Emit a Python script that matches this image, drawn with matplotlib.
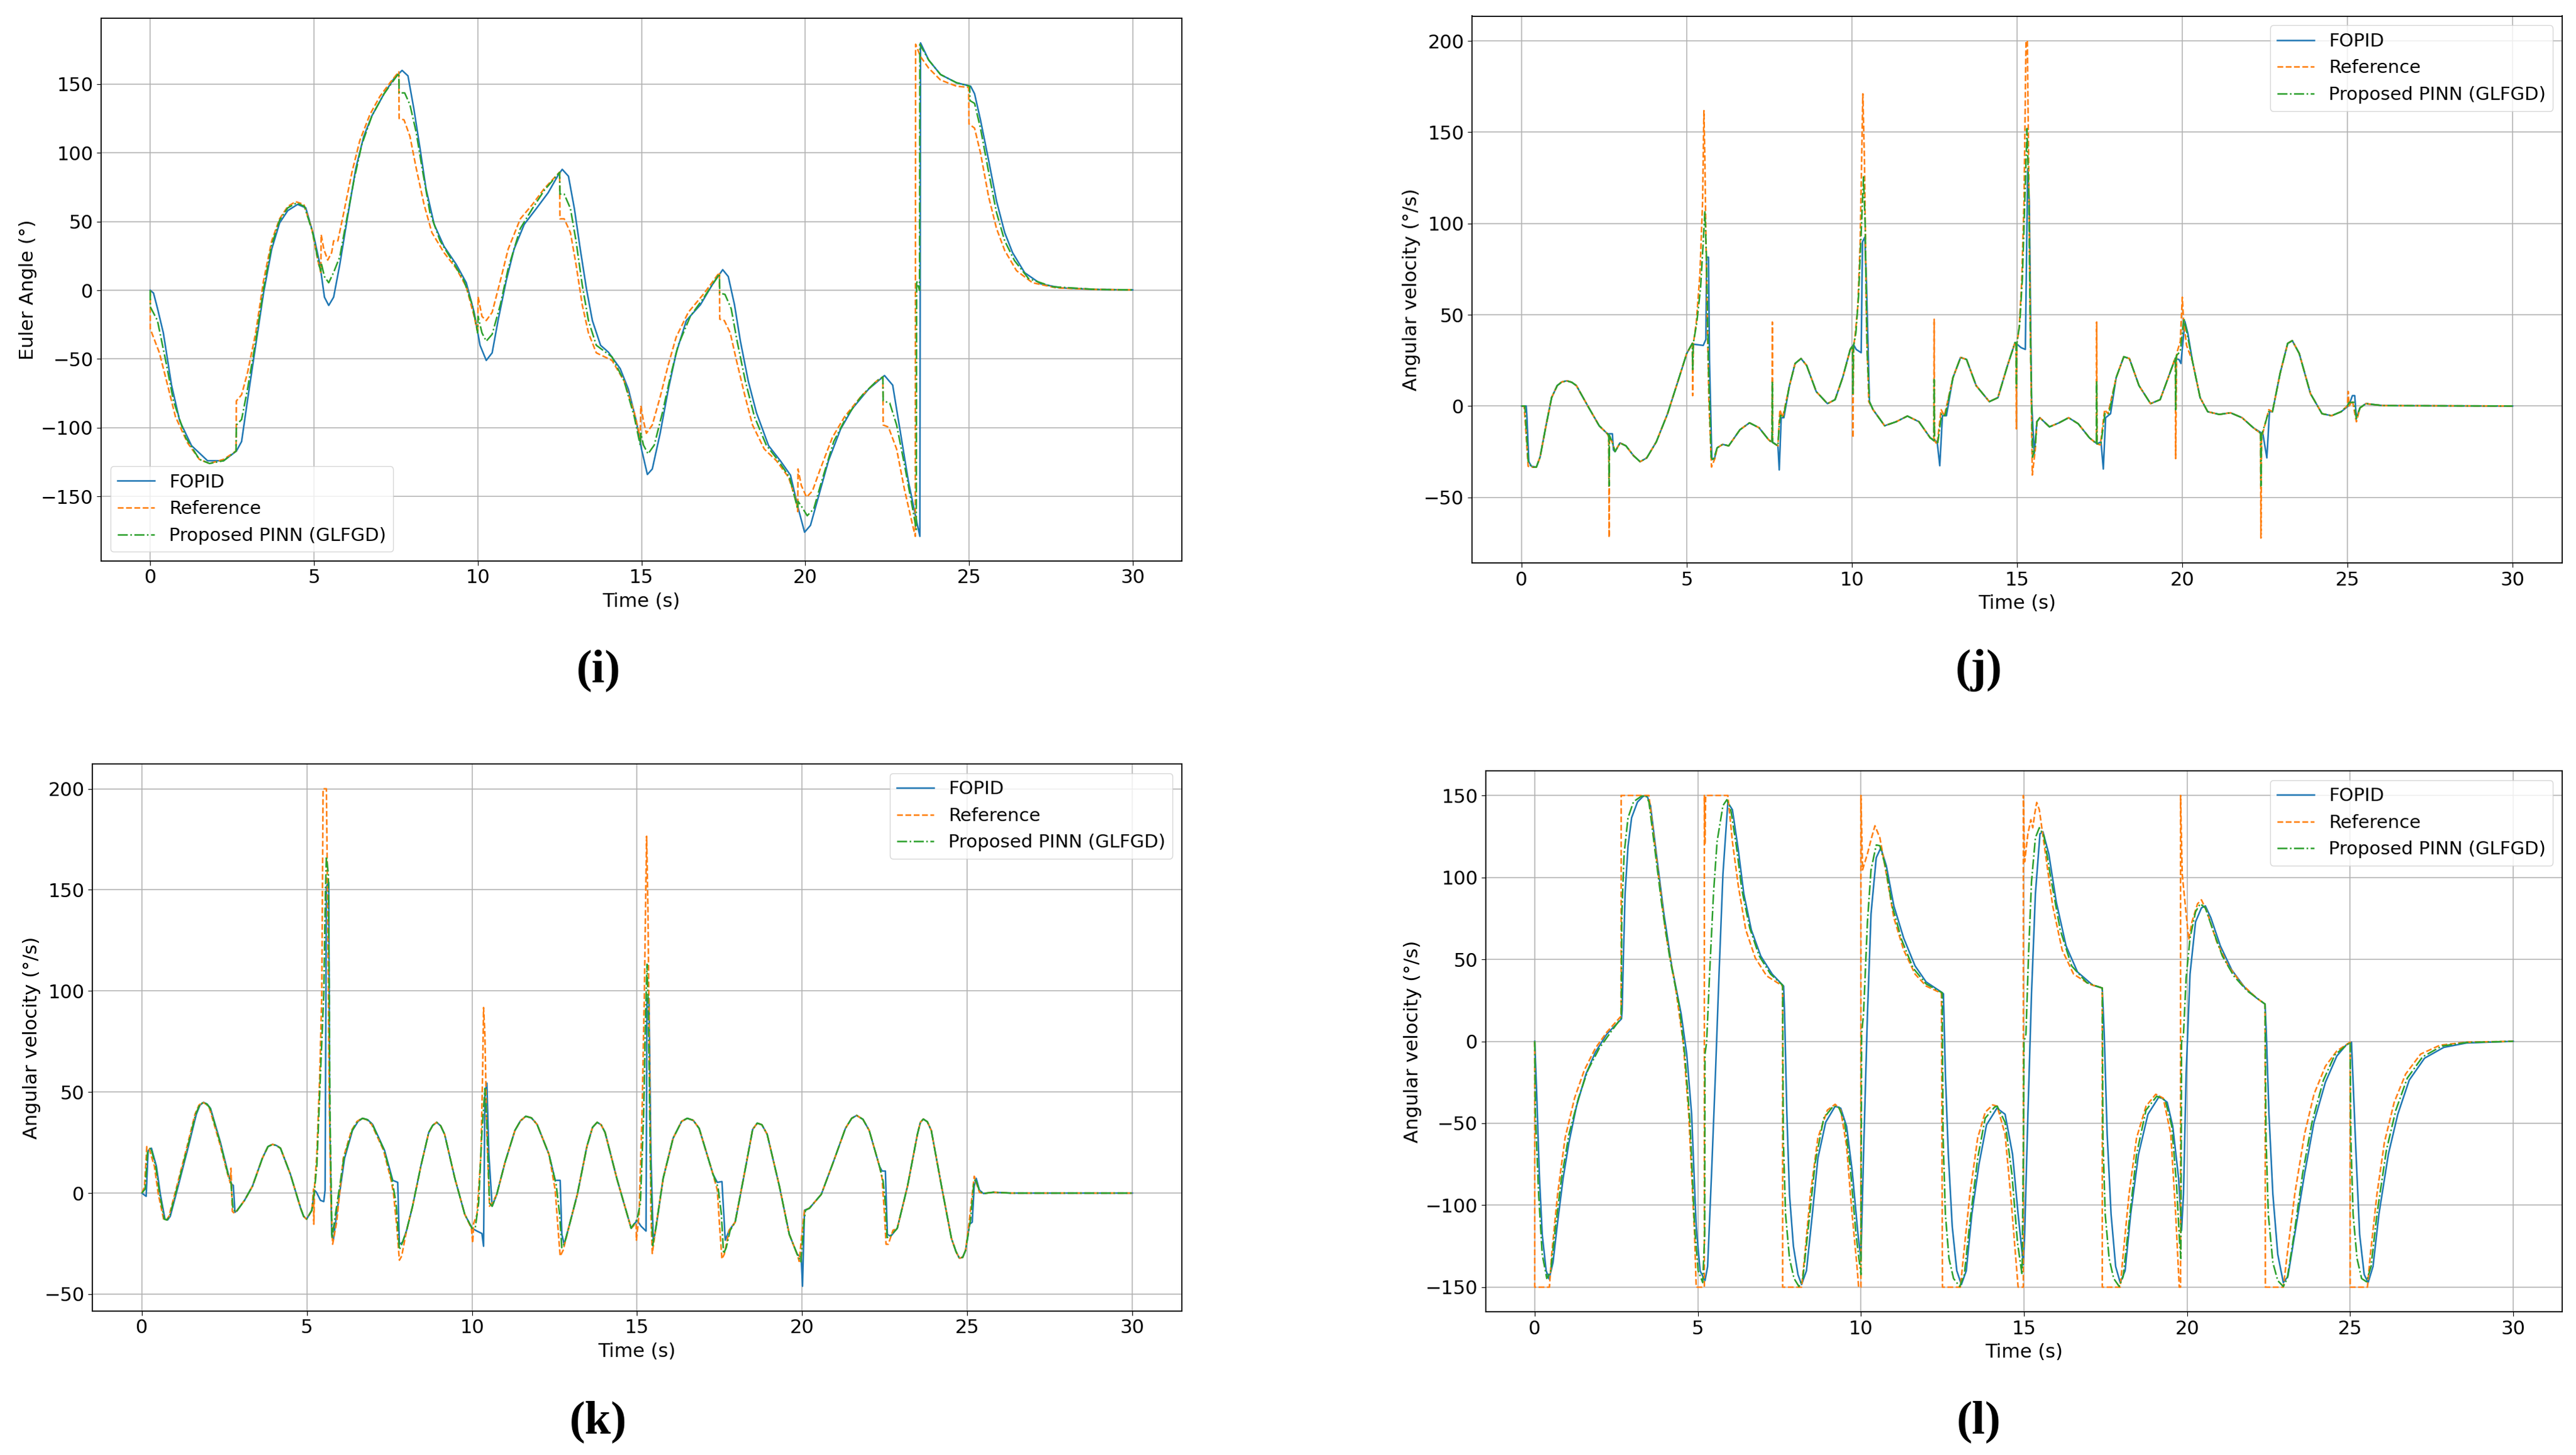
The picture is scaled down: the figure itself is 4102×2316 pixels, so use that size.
import numpy as np
import matplotlib
matplotlib.use("Agg")
import matplotlib.pyplot as plt

# 4 panels: (i) euler angle, (j)(k)(l) angular velocity
# each series is [t, value] pairs

# ---- panel (i) ----
fopid_i = np.array([
    [0, 0], [0.1, -2], [0.22, -13], [0.4, -31], [0.65, -69], [0.9, -95], [1.26, -113], [1.75, -124],
    [2.24, -124], [2.63, -117], [2.79, -110], [2.97, -80], [3.22, -40], [3.46, -2], [3.71, 30],
    [3.95, 49], [4.2, 58], [4.5, 62.5], [4.75, 60], [4.99, 40], [5.18, 19], [5.32, -5], [5.45, -11],
    [5.6, -5], [5.79, 19], [6.03, 54], [6.28, 89], [6.52, 112], [6.77, 127], [7.14, 143], [7.44, 154],
    [7.69, 160], [7.87, 156], [8.05, 132], [8.24, 103], [8.42, 74], [8.67, 48], [8.97, 32], [9.34, 19],
    [9.65, 5.5], [9.89, -16], [10.07, -40], [10.26, -51], [10.44, -45.5], [10.62, -22], [10.87, 7],
    [11.11, 30], [11.42, 48], [11.79, 59.5], [12.15, 71], [12.46, 84], [12.58, 88], [12.77, 83],
    [12.95, 59.5], [13.13, 30], [13.32, 1], [13.5, -22], [13.75, -40], [13.99, -45], [14.35, -57],
    [14.6, -72], [14.84, -95], [15.0, -115.5], [15.18, -134], [15.33, -130], [15.57, -104], [15.82, -72],
    [16.06, -45.5], [16.37, -22], [16.8, -10.5], [17.16, 4], [17.48, 15], [17.65, 10], [17.84, -10.5],
    [18.02, -37], [18.26, -66], [18.51, -89], [18.88, -113], [19.24, -124], [19.55, -134.5],
    [19.79, -159], [19.98, -176], [20.16, -171], [20.4, -150.5], [20.71, -124], [21.08, -101],
    [21.44, -86], [21.93, -72], [22.42, -62], [22.67, -69], [22.91, -104], [23.15, -139], [23.4, -168],
    [23.5, -179], [23.52, 180], [23.77, 167.5], [24.13, 157], [24.62, 151], [25.05, 148.5],
    [25.17, 143], [25.35, 124], [25.6, 94.5], [25.84, 65], [26.09, 42], [26.33, 27.4], [26.7, 12.8],
    [27.19, 4.7], [27.8, 1.75], [28.9, 0.6], [30, 0.3]])
ref_i = np.array([
    [0, 0], [0, -28], [0.28, -45.5], [0.53, -69], [0.77, -92], [1.14, -111], [1.5, -123], [1.81, -126],
    [2.24, -123], [2.62, -117], [2.63, -80.5], [2.79, -76], [2.97, -60], [3.22, -31], [3.46, 7],
    [3.71, 36], [3.95, 52], [4.2, 61], [4.44, 64.5], [4.69, 62.5], [4.93, 45], [5.12, 21.6], [5.21, 13],
    [5.22, 40.5], [5.3, 30], [5.42, 22], [5.54, 27.4], [5.6, 36], [5.73, 36], [5.91, 56.6], [6.16, 86],
    [6.4, 109], [6.71, 128], [7.01, 141], [7.32, 151], [7.59, 159], [7.6, 125], [7.75, 124], [7.93, 112],
    [8.12, 89], [8.36, 62.5], [8.6, 42], [8.97, 27.4], [9.34, 16], [9.65, 2.6], [9.89, -19], [10.0, -31],
    [10.01, -4.7], [10.13, -19], [10.26, -22], [10.44, -16], [10.69, 7], [10.93, 30], [11.3, 52],
    [11.67, 62.5], [12.03, 74], [12.5, 86], [12.51, 52], [12.64, 52], [12.83, 42], [13.0, 19],
    [13.19, -10.5], [13.38, -31], [13.62, -45.5], [14.1, -51], [14.47, -66], [14.78, -89],
    [14.96, -107], [14.98, -84], [15.06, -95], [15.15, -104], [15.33, -98], [15.57, -77.6],
    [15.82, -54], [16.06, -34], [16.43, -16], [16.92, -2], [17.38, 13], [17.39, -21], [17.53, -22],
    [17.71, -31], [17.9, -51], [18.14, -75], [18.39, -98], [18.75, -115.5], [19.12, -124],
    [19.49, -136], [19.73, -153.5], [19.77, -161], [19.78, -130], [19.88, -142], [20.04, -150.5],
    [20.22, -146], [20.46, -130], [20.83, -107], [21.2, -92], [21.69, -77.6], [22.18, -66],
    [22.37, -63], [22.38, -98], [22.54, -99.5], [22.79, -115.5], [23.03, -145], [23.28, -171],
    [23.36, -179], [23.37, 179], [23.52, 170], [23.77, 161.6], [24.13, 153], [24.62, 148.5],
    [24.99, 147.6], [25.0, 121], [25.17, 118], [25.35, 100], [25.6, 68], [25.84, 45], [26.09, 29],
    [26.45, 14.3], [26.94, 5.5], [27.68, 1.75], [28.9, 0.6], [30, 0.3]])
pinn_i = np.array([
    [0, 0], [0, -12], [0.22, -22], [0.47, -51], [0.71, -80.5], [1.08, -107], [1.5, -123], [1.81, -126],
    [2.24, -124], [2.62, -117], [2.63, -98], [2.79, -94], [2.97, -72], [3.22, -37], [3.46, 1],
    [3.71, 33], [3.95, 51], [4.2, 60], [4.47, 63.6], [4.71, 61], [4.96, 42], [5.15, 18.7], [5.21, 14],
    [5.22, 20], [5.32, 10], [5.45, 5.5], [5.6, 13], [5.79, 24.5], [5.97, 48], [6.22, 80], [6.46, 106],
    [6.77, 127], [7.14, 143], [7.44, 153], [7.59, 158], [7.6, 143.6], [7.77, 143.6], [7.93, 135],
    [8.12, 115], [8.3, 89], [8.54, 56.6], [8.85, 36], [9.22, 21.6], [9.58, 7], [9.83, -10.5],
    [10.0, -31], [10.01, -19], [10.13, -31], [10.26, -37], [10.44, -32], [10.69, -10.5], [10.93, 16],
    [11.3, 45], [11.67, 59.5], [12.03, 72.7], [12.5, 85.8], [12.51, 70], [12.64, 70], [12.83, 59.5],
    [13.0, 36], [13.19, 4], [13.38, -22], [13.62, -40], [14.1, -48.5], [14.47, -66], [14.78, -92],
    [14.96, -112.6], [14.98, -104], [15.06, -112.6], [15.2, -119], [15.39, -112.6], [15.64, -89],
    [15.88, -63], [16.12, -40], [16.49, -19], [16.92, -4.7], [17.38, 12], [17.39, -2], [17.55, -3],
    [17.74, -13.4], [17.92, -37], [18.17, -66], [18.45, -92], [18.81, -112.6], [19.18, -124],
    [19.52, -136], [19.77, -159], [19.78, -153.5], [19.88, -157], [20.06, -164], [20.26, -159],
    [20.5, -139], [20.87, -110], [21.26, -92], [21.75, -76], [22.18, -66], [22.37, -63],
    [22.38, -80.5], [22.58, -82], [22.79, -98], [23.03, -127], [23.28, -159], [23.39, -174],
    [23.4, 7], [23.49, 0], [23.5, 179], [23.77, 167.5], [24.13, 157], [24.62, 151], [25.02, 148.5],
    [25.03, 138], [25.17, 136], [25.35, 118], [25.6, 86], [25.84, 56.6], [26.09, 36], [26.39, 21.6],
    [26.82, 8.5], [27.55, 2.6], [28.9, 0.6], [30, 0.3]])

# ---- panel (j) ----
fopid_j = np.array([
    [0, 0], [0.14, 0], [0.16, -5], [0.22, -30.5], [0.3, -33], [0.45, -33.4], [0.56, -28], [0.74, -10.8],
    [0.91, 4.6], [1.08, 11.2], [1.22, 13.2], [1.37, 13.8], [1.52, 13], [1.66, 11.2], [2.0, 0.2],
    [2.35, -10.8], [2.6, -15.2],
    [2.75, -15.2], [2.78, -24], [2.83, -25], [2.98, -20.2], [3.16, -21.8], [3.39, -27.2], [3.59, -30.5],
    [3.79, -28.4], [4.08, -19.6], [4.42, -4.2], [4.77, 15.6], [5.0, 28.8], [5.17, 34.3], [5.23, 33.8],
    [5.5, 33.2], [5.58, 36.5], [5.6, 81.5], [5.66, 81.5], [5.69, 24.4], [5.76, -28.4], [5.83, -29.5],
    [5.92, -22.9], [6.09, -21], [6.27, -21.8], [6.61, -13], [6.9, -9.2], [7.19, -11.9], [7.48, -18.5],
    [7.65, -20.4], [7.76, -21.8], [7.8, -35], [7.86, -6.4], [7.94, -6.4], [8.11, 11.2], [8.28, 23.3],
    [8.46, 26], [8.63, 22.2], [8.92, 7.9], [9.26, 1.3], [9.49, 3.5], [9.72, 15.6], [9.95, 31],
    [10.05, 33.6], [10.13, 31], [10.28, 29.2], [10.32, 90], [10.39, 92.5], [10.44, 68], [10.53, 2.4],
    [10.64, -2], [10.99, -10.8], [11.34, -8.6], [11.68, -5.5], [12.03, -8.6], [12.37, -17.4],
    [12.58, -19.6], [12.66, -32.7], [12.74, -5.3], [12.86, -5.3], [13.06, 15.6], [13.29, 26.6],
    [13.47, 25.5], [13.76, 11.2], [14.16, 2.4], [14.42, 4.6], [14.71, 22.2], [14.94, 34.8],
    [15.12, 32], [15.25, 31], [15.32, 129.6], [15.37, 112], [15.44, 2.4], [15.52, -26], [15.6, -8.6],
    [15.69, -6.4], [15.98, -11.4], [16.27, -9.2], [16.56, -6.4], [16.85, -9.7], [17.19, -17.4],
    [17.42, -20.7], [17.54, -19.6], [17.61, -34.5], [17.68, -6.4], [17.83, -4.2], [18.0, 15.6],
    [18.23, 27], [18.4, 26], [18.69, 11.2], [19.04, 1.3], [19.33, 3.5], [19.62, 17.8], [19.79, 26],
    [19.9, 25.5], [19.96, 23.3], [20.02, 35.3], [20.08, 46.3], [20.17, 39.7], [20.31, 24.4],
    [20.54, 4.6], [20.77, -3.1], [21.12, -4.6], [21.46, -3.7], [21.81, -6.4], [22.15, -11.9],
    [22.44, -15.2], [22.56, -28.4], [22.64, -3.1], [22.73, -3.1], [22.96, 17.8], [23.19, 34.3],
    [23.33, 35.8], [23.54, 28.8], [23.88, 6.8], [24.23, -4.2], [24.52, -5.3], [24.81, -3.1],
    [25.04, 0.2], [25.15, 5.7], [25.22, 5.7], [25.27, -6.4], [25.38, -0.9], [25.56, 1.3],
    [26.08, 0.2], [30, 0]])
ref_j = np.array([
    [0, 0], [0.08, 0], [0.2, -33], [0.3, -33.5], [0.45, -33.4], [0.56, -28], [0.74, -10.8], [0.91, 4.6],
    [1.08, 11.2], [1.22, 13.2], [1.37, 13.8], [1.52, 13], [1.66, 11.2], [2.0, 0.2], [2.35, -10.8],
    [2.6, -15.2], [2.64, -17],
    [2.65, -72], [2.66, -17], [2.75, -20], [2.83, -25], [2.98, -20.2], [3.16, -21.8], [3.39, -27.2],
    [3.59, -30.5], [3.79, -28.4], [4.08, -19.6], [4.42, -4.2], [4.77, 15.6], [5.0, 28.8], [5.17, 34.3],
    [5.18, 5.7], [5.2, 34], [5.29, 46], [5.4, 72.7], [5.48, 112], [5.52, 161.8], [5.55, 134], [5.6, 68],
    [5.67, 2.4], [5.75, -33.4], [5.86, -28.4], [5.92, -22.9], [6.09, -21], [6.27, -21.8], [6.61, -13],
    [6.9, -9.2], [7.19, -11.9], [7.48, -18.5], [7.58, -20], [7.59, 46], [7.6, -20], [7.76, -21.8],
    [7.8, -8], [7.82, -2], [7.9, -6.4], [8.11, 11.2], [8.28, 23.3], [8.46, 26], [8.63, 22.2],
    [8.92, 7.9], [9.26, 1.3], [9.49, 3.5], [9.72, 15.6], [9.95, 31], [10.02, 33], [10.03, -17.4],
    [10.05, 33], [10.09, 37.6], [10.18, 55], [10.25, 90], [10.33, 171], [10.38, 134], [10.44, 46],
    [10.51, 2.4], [10.64, -2], [10.99, -10.8], [11.34, -8.6], [11.68, -5.5], [12.03, -8.6],
    [12.37, -17.4], [12.48, -19], [12.49, 47.5], [12.5, -19], [12.58, -21], [12.7, -2], [12.8, -5.3],
    [13.06, 15.6], [13.29, 26.6], [13.47, 25.5], [13.76, 11.2], [14.16, 2.4], [14.42, 4.6],
    [14.71, 22.2], [14.94, 34.8], [14.97, 34], [14.98, -12.5], [14.99, 34], [15.06, 42], [15.14, 68],
    [15.21, 112], [15.27, 200], [15.31, 200], [15.35, 134], [15.4, 46], [15.46, -37.8], [15.55, -24],
    [15.6, -8.6], [15.69, -6.4], [15.98, -11.4], [16.27, -9.2], [16.56, -6.4], [16.85, -9.7],
    [17.19, -17.4], [17.4, -20.5], [17.41, 46], [17.42, -20.7], [17.52, -21.3], [17.65, -2],
    [17.75, -4.2], [18.0, 15.6], [18.23, 27], [18.4, 26], [18.69, 11.2], [19.04, 1.3], [19.33, 3.5],
    [19.62, 17.8], [19.79, 26.6], [19.8, -28.8], [19.83, 28.8], [19.94, 35.4], [20.0, 59.6],
    [20.04, 46.4], [20.13, 33.2], [20.31, 24.4], [20.54, 4.6], [20.77, -3.1], [21.12, -4.6],
    [21.46, -3.7], [21.81, -6.4], [22.15, -11.9], [22.37, -15], [22.38, -72.3], [22.4, -17.4],
    [22.62, -2], [22.73, -3.1], [22.96, 17.8], [23.19, 34.3], [23.33, 35.8], [23.54, 28.8],
    [23.88, 6.8], [24.23, -4.2], [24.52, -5.3], [24.81, -3.1], [25.0, 0.2], [25.02, 8], [25.05, 0],
    [25.15, 3], [25.27, -8.6], [25.38, -1], [25.56, 1.3], [26.08, 0.2], [30, 0]])
pinn_j = np.array([
    [0, 0], [0.1, 0], [0.2, -30], [0.3, -33.5], [0.45, -33.4], [0.56, -28], [0.74, -10.8], [0.91, 4.6],
    [1.08, 11.2], [1.22, 13.2], [1.37, 13.8], [1.52, 13], [1.66, 11.2], [2.0, 0.2], [2.35, -10.8],
    [2.6, -15.2], [2.64, -16],
    [2.65, -43.7], [2.66, -16], [2.75, -20], [2.83, -25], [2.98, -20.2], [3.16, -21.8], [3.39, -27.2],
    [3.59, -30.5], [3.79, -28.4], [4.08, -19.6], [4.42, -4.2], [4.77, 15.6], [5.0, 28.8], [5.17, 34.3],
    [5.18, 20], [5.2, 34.5], [5.3, 45], [5.42, 65], [5.5, 90], [5.55, 106.8], [5.6, 80], [5.66, 20],
    [5.74, -28], [5.8, -30], [5.92, -22.9], [6.09, -21], [6.27, -21.8], [6.61, -13], [6.9, -9.2],
    [7.19, -11.9], [7.48, -18.5], [7.58, -20], [7.59, 13.4], [7.6, -20], [7.76, -21.8], [7.8, -10],
    [7.84, -5], [7.92, -6.4], [8.11, 11.2], [8.28, 23.3], [8.46, 26], [8.63, 22.2], [8.92, 7.9],
    [9.26, 1.3], [9.49, 3.5], [9.72, 15.6], [9.95, 31], [10.02, 33], [10.03, 6.8], [10.05, 33],
    [10.12, 40], [10.2, 60], [10.28, 95], [10.35, 125.5], [10.4, 100], [10.46, 30], [10.53, 2.4],
    [10.64, -2], [10.99, -10.8], [11.34, -8.6], [11.68, -5.5], [12.03, -8.6], [12.37, -17.4],
    [12.48, -19], [12.49, 14.5], [12.5, -19], [12.6, -20], [12.72, -4], [12.82, -5.3], [13.06, 15.6],
    [13.29, 26.6], [13.47, 25.5], [13.76, 11.2], [14.16, 2.4], [14.42, 4.6], [14.71, 22.2],
    [14.94, 34.8], [14.97, 34], [14.98, 10], [14.99, 34], [15.08, 45], [15.16, 70], [15.23, 110],
    [15.3, 152], [15.35, 120], [15.4, 40], [15.47, -28], [15.55, -22], [15.6, -8.6], [15.69, -6.4],
    [15.98, -11.4], [16.27, -9.2], [16.56, -6.4], [16.85, -9.7], [17.19, -17.4], [17.4, -20.5],
    [17.41, 13.8], [17.42, -20.7], [17.54, -20.5], [17.66, -4], [17.78, -4.2], [18.0, 15.6],
    [18.23, 27], [18.4, 26], [18.69, 11.2], [19.04, 1.3], [19.33, 3.5], [19.62, 17.8], [19.79, 26.3],
    [19.8, -2], [19.82, 27.5], [19.94, 30], [20.05, 48], [20.12, 42], [20.31, 24.4], [20.54, 4.6],
    [20.77, -3.1], [21.12, -4.6], [21.46, -3.7], [21.81, -6.4], [22.15, -11.9], [22.37, -15],
    [22.38, -43.7], [22.4, -16], [22.62, -3], [22.73, -3.1], [22.96, 17.8], [23.19, 34.3],
    [23.33, 35.8], [23.54, 28.8], [23.88, 6.8], [24.23, -4.2], [24.52, -5.3], [24.81, -3.1],
    [25.0, 0.2], [25.05, 2], [25.2, 2], [25.27, -7], [25.38, -1], [25.56, 1.3], [26.08, 0.2], [30, 0]])

# ---- panel (k) ----
fopid_k = np.array([
    [0, 0], [0.13, -1.6], [0.19, 21], [0.29, 22.2], [0.44, 13.3], [0.56, -0.6], [0.7, -12.9],
    [0.78, -13.3], [0.86, -11.5], [1.1, 3.4], [1.41, 23.1], [1.65, 39], [1.76, 43.5], [1.87, 44.9],
    [1.98, 44], [2.08, 41.9], [2.38, 25.1],
    [2.62, 9.3], [2.72, 4.4], [2.77, 3.8], [2.82, -9.5], [2.89, -8.5], [3.11, -3.6], [3.35, 3.4],
    [3.65, 17.2], [3.82, 23], [3.96, 24.1], [4.08, 23.5], [4.2, 22.2], [4.5, 9.3], [4.81, -7.5],
    [4.9, -11.5], [4.99, -12.9], [5.15, -8.5],
    [5.23, 1.4], [5.29, 0.4], [5.41, -3.6], [5.51, -4.2], [5.55, 1.4], [5.59, 151.7], [5.66, 153.7],
    [5.69, 39], [5.75, -20.4], [5.8, -23.3], [5.9, -10.5], [6.14, 17.2], [6.38, 31], [6.55, 35.5],
    [6.69, 37], [6.84, 36.3],
    [6.99, 34], [7.35, 21.2], [7.6, 6.3], [7.75, 5.3], [7.8, -25.3], [7.9, -24.3], [8.02, -18.4],
    [8.2, -6.5], [8.45, 13.3], [8.69, 30], [8.81, 33.5], [8.93, 35], [9.05, 33.3], [9.17, 29.1],
    [9.48, 7.3], [9.78, -10.5],
    [10.0, -17.4], [10.15, -18.8], [10.3, -20], [10.35, -26.3], [10.39, 48.9], [10.45, 54.4],
    [10.51, 19.2], [10.61, -6.5], [10.75, -0.6], [11.0, 15.2], [11.3, 31], [11.47, 35.8], [11.63, 38],
    [11.8, 37.2], [11.97, 34],
    [12.33, 19.2], [12.52, 6.3], [12.67, 6.3], [12.72, -20.4], [12.79, -25.3], [12.94, -16.4],
    [13.19, -0.6], [13.48, 23.1], [13.65, 32.5], [13.79, 35], [13.91, 33.8], [14.03, 30], [14.39, 7],
    [14.82, -17.4], [15.0, -13.5],
    [15.12, -16.4], [15.27, -18.8], [15.3, 96.3], [15.36, 96.3], [15.42, 19.2], [15.49, -24.3],
    [15.58, -16.4], [15.79, 7.3], [16.09, 27.1], [16.35, 35.5], [16.52, 37], [16.7, 36], [16.88, 32],
    [17.3, 9.3], [17.43, 5.3],
    [17.57, 5.7], [17.62, -8.5], [17.67, -23.3], [17.79, -18.4], [17.97, -14.4], [18.27, 11.3],
    [18.5, 31.5], [18.64, 34.6], [18.78, 33.8], [18.94, 29.1], [19.31, 3.4], [19.61, -20.4],
    [19.85, -30.3], [19.97, -31.8],
    [20.01, -46.1], [20.07, -8.5], [20.22, -7.5], [20.58, -0.6], [20.94, 15.2], [21.31, 32],
    [21.5, 37], [21.65, 38.4], [21.84, 36.5], [22.03, 31], [22.34, 13.3], [22.42, 10.9], [22.52, 10.9],
    [22.58, -20.4],
    [22.68, -21.4], [22.88, -17.4], [23.19, 3.4], [23.49, 29.1], [23.58, 35], [23.67, 36.6],
    [23.79, 35.3], [23.91, 31],
    [24.22, 3.4], [24.52, -22.4], [24.66, -29], [24.76, -32.2], [24.86, -31.8], [24.95, -28.3],
    [25.07, -15.4], [25.15, -14.4],
    [25.21, 3.4], [25.27, 7.3], [25.37, 1.4], [25.49, -0.2], [25.79, 0.4], [26.3, 0], [30, 0]])
ref_k = np.array([
    [0, 0], [0.08, 3], [0.15, 23], [0.22, 22], [0.38, 13.3], [0.5, -0.6], [0.66, -12.9], [0.75, -13.3],
    [0.82, -11.5], [1.06, 3.4], [1.37, 23.1], [1.61, 39], [1.73, 43.5], [1.84, 44.9], [1.95, 44],
    [2.05, 41.9], [2.35, 25.1], [2.6, 9.3],
    [2.68, 5], [2.7, 12.3], [2.74, -9], [2.8, -10], [2.89, -8.5], [3.11, -3.6], [3.35, 3.4],
    [3.65, 17.2], [3.82, 23], [3.96, 24.1], [4.08, 23.5], [4.2, 22.2], [4.5, 9.3], [4.81, -7.5],
    [4.9, -11.5], [4.99, -12.9], [5.15, -8.5],
    [5.2, 2], [5.21, -15.4], [5.23, 3], [5.3, 19], [5.39, 58.8], [5.45, 98], [5.49, 200], [5.59, 200],
    [5.63, 138], [5.67, 58.8], [5.72, 0], [5.78, -25.3], [5.9, -14.4], [6.1, 17.2], [6.35, 31],
    [6.52, 35.5], [6.66, 37], [6.81, 36.3], [6.96, 34], [7.32, 21.2], [7.55, 6.3], [7.62, 0],
    [7.72, -16.4], [7.8, -33.2],
    [7.87, -31.2], [8.02, -18.4], [8.2, -6.5], [8.45, 13.3], [8.69, 30], [8.81, 33.5], [8.93, 35],
    [9.05, 33.3], [9.17, 29.1],
    [9.48, 7.3], [9.78, -10.5], [9.98, -17.4], [10.02, -24.7], [10.05, -15], [10.15, -10.5],
    [10.27, 19.2], [10.32, 58.8], [10.35, 91.8], [10.39, 78.5], [10.45, 29.1], [10.53, -6.5],
    [10.63, -4.5], [10.75, -0.6], [11.0, 15.2], [11.3, 31], [11.47, 35.8], [11.63, 38], [11.8, 37.2],
    [11.97, 34], [12.33, 19.2],
    [12.52, 1.4], [12.6, -16.4], [12.67, -31.2], [12.76, -28.3], [12.94, -16.4], [13.19, -0.6],
    [13.48, 23.1], [13.65, 32.5], [13.79, 35], [13.91, 33.8], [14.03, 30], [14.39, 7], [14.82, -17.4],
    [14.97, -15], [14.98, -23.3],
    [15.06, -10.5], [15.15, 39], [15.22, 98.3], [15.27, 157.7], [15.29, 176.5], [15.33, 138],
    [15.38, 58.8], [15.42, -10.5], [15.46, -29.9], [15.54, -20.4], [15.79, 7.3], [16.09, 27.1],
    [16.35, 35.5], [16.52, 37], [16.7, 36], [16.88, 32], [17.3, 9.3], [17.43, 1.4], [17.5, -16.4],
    [17.57, -32.6], [17.64, -30.3],
    [17.79, -18.4], [17.97, -14.4], [18.27, 11.3], [18.5, 31.5], [18.64, 34.6], [18.78, 33.8],
    [18.94, 29.1], [19.31, 3.4],
    [19.61, -20.4], [19.85, -30.3], [19.91, -33.8], [19.99, -20.4], [20.07, -8.5], [20.22, -7.5],
    [20.58, -0.6], [20.94, 15.2], [21.31, 32], [21.5, 37], [21.65, 38.4], [21.84, 36.5], [22.03, 31],
    [22.34, 13.3], [22.42, 7.3],
    [22.49, -10], [22.54, -25.3], [22.61, -25.3], [22.75, -18.4], [22.88, -17.4], [23.19, 3.4],
    [23.49, 29.1], [23.58, 35], [23.67, 36.6], [23.79, 35.3], [23.91, 31], [24.22, 3.4],
    [24.52, -22.4], [24.66, -29], [24.76, -32.2], [24.86, -31.8],
    [24.95, -28.3], [25.07, -12.5], [25.21, 8.3], [25.37, 0.4], [25.49, -0.2], [25.79, 0.4],
    [26.3, 0], [30, 0]])
pinn_k = np.array([
    [0, 0], [0.1, 2], [0.17, 20], [0.27, 22.5], [0.42, 13.3], [0.54, -0.6], [0.68, -12.9],
    [0.76, -13.3], [0.84, -11.5], [1.08, 3.4], [1.39, 23.1], [1.63, 39], [1.75, 43.5], [1.86, 44.9],
    [1.97, 44], [2.07, 41.9], [2.37, 25.1],
    [2.61, 9.3], [2.7, 5], [2.76, -8], [2.85, -9.5], [3.11, -3.6], [3.35, 3.4], [3.65, 17.2],
    [3.82, 23], [3.96, 24.1], [4.08, 23.5], [4.2, 22.2], [4.5, 9.3], [4.81, -7.5], [4.9, -11.5],
    [4.99, -12.9], [5.15, -8.5], [5.22, 0],
    [5.3, 13.3], [5.41, 58.8], [5.51, 98.3], [5.56, 147.8], [5.59, 166.6], [5.65, 157.7], [5.7, 39],
    [5.76, -22.4], [5.85, -12], [6.12, 17.2], [6.37, 31], [6.54, 35.5], [6.68, 37], [6.83, 36.3],
    [6.98, 34], [7.34, 21.2],
    [7.58, 6.3], [7.7, -5], [7.8, -28], [7.88, -25], [8.02, -18.4], [8.2, -6.5], [8.45, 13.3],
    [8.69, 30], [8.81, 33.5], [8.93, 35], [9.05, 33.3], [9.17, 29.1], [9.48, 7.3], [9.78, -10.5],
    [10.0, -17.4], [10.1, -17],
    [10.2, -5], [10.3, 30], [10.39, 51.8], [10.45, 35], [10.53, -5], [10.61, -6.5], [10.75, -0.6],
    [11.0, 15.2], [11.3, 31], [11.47, 35.8], [11.63, 38], [11.8, 37.2], [11.97, 34], [12.33, 19.2],
    [12.55, 4], [12.65, -10],
    [12.72, -27], [12.8, -25], [12.94, -16.4], [13.19, -0.6], [13.48, 23.1], [13.65, 32.5],
    [13.79, 35], [13.91, 33.8], [14.03, 30],
    [14.39, 7], [14.82, -17.4], [15.0, -13], [15.1, -5], [15.2, 40], [15.26, 90], [15.3, 113.2],
    [15.34, 90], [15.4, 20], [15.47, -26], [15.56, -18], [15.79, 7.3], [16.09, 27.1], [16.35, 35.5],
    [16.52, 37], [16.7, 36],
    [16.88, 32], [17.3, 9.3], [17.45, 3], [17.55, -10], [17.62, -30], [17.7, -27], [17.82, -18.4],
    [17.97, -14.4], [18.27, 11.3], [18.5, 31.5], [18.64, 34.6], [18.78, 33.8], [18.94, 29.1],
    [19.31, 3.4], [19.61, -20.4],
    [19.85, -30.3], [19.96, -34], [20.05, -15], [20.1, -8.5], [20.22, -7.5], [20.58, -0.6],
    [20.94, 15.2], [21.31, 32], [21.5, 37], [21.65, 38.4], [21.84, 36.5], [22.03, 31], [22.34, 13.3],
    [22.45, 6], [22.52, -5],
    [22.57, -22], [22.66, -21.4], [22.88, -17.4], [23.19, 3.4], [23.49, 29.1], [23.58, 35],
    [23.67, 36.6], [23.79, 35.3],
    [23.91, 31], [24.22, 3.4], [24.52, -22.4], [24.66, -29], [24.76, -32.2], [24.86, -31.8],
    [24.95, -28.3], [25.1, -13], [25.2, 5],
    [25.25, 7], [25.37, 1], [25.49, -0.2], [25.79, 0.4], [26.3, 0], [30, 0]])

# ---- panel (l) ----
fopid_l = np.array([
    [0, 0], [0.06, -32], [0.14, -81], [0.23, -118], [0.35, -140], [0.44, -145], [0.56, -135],
    [0.7, -110.5], [0.87, -83.6], [1.05, -61.6], [1.28, -39.6], [1.57, -20], [1.86, -6.6], [2.21, 4.4],
    [2.66, 13.7], [2.68, 19], [2.72, 53], [2.77, 90], [2.86, 119], [2.97, 136.4], [3.15, 146],
    [3.32, 149.4], [3.44, 150], [3.55, 143.8], [3.73, 114.4], [3.96, 77.8], [4.2, 46], [4.49, 16.6],
    [4.66, -7.8], [4.81, -44.5], [4.95, -113], [5.07, -140], [5.22, -146], [5.3, -137.4], [5.42, -81],
    [5.54, -20], [5.65, 41], [5.77, 102], [5.92, 145.7], [6.06, 141.3], [6.24, 116.9], [6.41, 90],
    [6.64, 68], [6.93, 52], [7.28, 41], [7.63, 33.7], [7.66, 16.6], [7.73, -44.5], [7.81, -93.4],
    [7.93, -125], [8.07, -142.3], [8.18, -148.4], [8.33, -140], [8.51, -105.6], [8.68, -71.4],
    [8.92, -49.4], [9.21, -39.6], [9.38, -40.8], [9.56, -51.8], [9.73, -78.7], [9.91, -117.8],
    [10.0, -132.5], [10.08, -69], [10.2, 16.6], [10.31, 77.8], [10.47, 112], [10.61, 118],
    [10.78, 107], [11.01, 82.6], [11.31, 63], [11.66, 46], [12.0, 36.2], [12.47, 30], [12.53, 29],
    [12.59, -20], [12.68, -69], [12.8, -113], [12.94, -140], [13.08, -148.4], [13.23, -140],
    [13.4, -105.6], [13.62, -75], [13.85, -51], [14.17, -40.8], [14.42, -44.5], [14.65, -69],
    [14.82, -105.6], [14.98, -136.2], [15.02, -117.8], [15.12, -44.5], [15.23, 28.9], [15.35, 90],
    [15.49, 126.6], [15.58, 127.9], [15.76, 114.4], [15.99, 85], [16.29, 58.2], [16.64, 42.3],
    [17.11, 34.2], [17.4, 32.5], [17.46, 4.4], [17.55, -56.7], [17.67, -105.6], [17.81, -137.4],
    [17.95, -147.2], [18.1, -140], [18.27, -105.6], [18.51, -69], [18.8, -44.5], [19.15, -33.5],
    [19.39, -37.2], [19.56, -51.8], [19.74, -83.6], [19.83, -115.4], [19.89, -93.4], [19.97, -20],
    [20.09, 41], [20.26, 72.9], [20.44, 81.4], [20.56, 82.6], [20.73, 75.3], [21.02, 58.2],
    [21.37, 43.5], [21.78, 32.5], [22.13, 26.4], [22.39, 22.7], [22.43, 4.4], [22.51, -44.5],
    [22.63, -93.4], [22.78, -130], [22.95, -147.2], [23.09, -143.5], [23.3, -117.8], [23.6, -81],
    [23.89, -49.4], [24.24, -25], [24.59, -9], [24.88, -2.2], [25.04, -0.5], [25.08, -20],
    [25.18, -69], [25.29, -117.8], [25.43, -142.3], [25.55, -147.2], [25.7, -137.4], [25.88, -105.6],
    [26.17, -69], [26.46, -44.5], [26.81, -23.7], [27.28, -10.3], [27.87, -3.7], [28.57, -1], [30, 0]])
ref_l = np.array([
    [0, 0], [0, -150], [0.45, -150], [0.52, -130], [0.7, -93.4], [0.93, -59], [1.22, -34.7],
    [1.52, -17.6], [1.86, -4.2], [2.21, 5.6], [2.65, 15.4], [2.65, 150], [3.5, 150], [3.61, 131.5],
    [3.79, 102], [4.02, 65.5], [4.31, 33.7], [4.55, -0.5], [4.72, -44.5], [4.9, -117.8], [4.95, -150],
    [5.2, -150], [5.2, 150], [5.22, 120], [5.24, 150], [5.92, 150], [6.06, 121.8], [6.24, 94.9],
    [6.47, 68], [6.76, 50.9], [7.11, 39.9], [7.6, 33.7], [7.6, -150], [8.18, -150], [8.28, -130],
    [8.45, -93.4], [8.68, -59], [8.97, -42], [9.21, -38.4], [9.38, -42], [9.56, -64], [9.73, -105.6],
    [9.88, -137.4], [9.93, -150], [10.0, -150], [10.0, 150], [10.05, 104.6], [10.2, 114.4],
    [10.31, 123], [10.43, 131.5], [10.58, 124.2], [10.78, 102], [11.01, 75.3], [11.31, 55.7],
    [11.66, 41], [12.0, 33.7], [12.47, 29.3], [12.5, -150], [13.05, -150], [13.15, -130],
    [13.34, -93.4], [13.58, -59], [13.81, -43.3], [14.04, -38.8], [14.18, -39.6], [14.42, -56.7],
    [14.59, -93.4], [14.77, -137.4], [14.82, -150], [14.98, -150], [14.98, 150], [15.02, 109.5],
    [15.12, 126.6], [15.21, 135.2], [15.27, 130.3], [15.33, 138.9], [15.39, 145.7], [15.47, 141.3],
    [15.64, 116.9], [15.88, 82.6], [16.17, 55.7], [16.52, 41], [16.99, 35], [17.4, 32.5],
    [17.4, -150], [17.95, -150], [18.04, -130], [18.22, -93.4], [18.45, -59], [18.74, -39.6],
    [19.04, -32.3], [19.27, -34.7], [19.5, -56.7], [19.65, -105.6], [19.74, -142.3], [19.76, -150],
    [19.8, -150], [19.8, 150], [19.85, 102], [19.97, 77.8], [20.05, 61.9], [20.15, 72.9],
    [20.32, 83.9], [20.44, 86.3], [20.61, 79], [20.91, 60.6], [21.26, 46], [21.67, 35], [22.13, 26.4],
    [22.39, 22.7], [22.4, -150], [22.95, -150], [23.07, -130], [23.3, -93.4], [23.6, -56.7],
    [23.89, -32.3], [24.24, -15.2], [24.59, -5.9], [25.0, -0.5], [25.0, -150], [25.53, -150],
    [25.62, -130], [25.82, -93.4], [26.05, -61.6], [26.35, -37.2], [26.7, -20], [27.16, -7.8],
    [27.75, -2.4], [28.57, -0.5], [30, 0]])
pinn_l = np.array([
    [0, 0], [0.02, -44.5], [0.12, -93.4], [0.23, -130], [0.37, -144.7], [0.49, -140], [0.64, -113],
    [0.82, -83.6], [1.05, -56.7], [1.34, -34.7], [1.63, -17.6], [1.98, -4.2], [2.33, 5.6],
    [2.65, 14.2], [2.67, 77.8], [2.74, 114.4], [2.86, 136.4], [3.03, 146.2], [3.26, 149.4],
    [3.4, 150], [3.5, 146.2], [3.67, 119.3], [3.9, 82.6], [4.14, 50.9], [4.43, 21.5], [4.6, -7.8],
    [4.76, -49.4], [4.9, -113], [5.01, -140], [5.15, -147.2], [5.21, -117.8], [5.22, -7.8],
    [5.27, -0.5], [5.36, 41], [5.48, 90], [5.59, 121.8], [5.77, 143.8], [5.89, 147.4], [6.0, 142.5],
    [6.18, 119.3], [6.35, 92.4], [6.59, 69.2], [6.88, 52.1], [7.23, 41], [7.6, 34.2], [7.62, -59],
    [7.69, -105.6], [7.81, -132.5], [7.95, -144.7], [8.1, -149.6], [8.22, -144.7], [8.39, -113],
    [8.6, -73.8], [8.86, -46.9], [9.15, -39.6], [9.32, -40.1], [9.5, -49.4], [9.67, -76.3],
    [9.85, -117.8], [10.0, -142.3], [10.02, 4.4], [10.08, 16.6], [10.2, 72.9], [10.31, 104.6],
    [10.47, 119.8], [10.58, 119.3], [10.75, 107], [10.96, 82.6], [11.25, 61.9], [11.6, 44.7],
    [12.0, 35], [12.49, 29.6], [12.52, -59], [12.59, -105.6], [12.7, -132.5], [12.84, -144.7],
    [13.03, -149.6], [13.17, -142.3], [13.34, -110.5], [13.58, -71.4], [13.81, -46.9], [14.1, -40.1],
    [14.18, -39.6], [14.42, -49.4], [14.63, -81], [14.8, -122.7], [14.94, -142.3], [14.98, -69],
    [15.0, -0.5], [15.06, 4.4], [15.14, 53.3], [15.23, 97.3], [15.35, 124.2], [15.47, 130.3],
    [15.61, 125.4], [15.82, 99.8], [16.11, 68], [16.46, 46], [16.93, 35.7], [17.4, 32.5],
    [17.42, -59], [17.49, -105.6], [17.61, -132.5], [17.75, -144.7], [17.92, -149.6], [18.04, -143.5],
    [18.22, -110.5], [18.45, -69], [18.74, -42], [19.07, -33.5], [19.33, -35.9], [19.53, -51.8],
    [19.68, -88.5], [19.77, -122.7], [19.81, -132.5], [19.83, -0.5], [19.89, 4.4], [19.97, 38.6],
    [20.09, 63], [20.26, 79], [20.4, 83.9], [20.56, 81.4], [20.79, 68], [21.08, 52.1], [21.43, 39.9],
    [21.84, 30.8], [22.39, 22.7], [22.42, -59], [22.49, -105.6], [22.63, -135], [22.78, -146],
    [22.95, -149.6], [23.07, -144.7], [23.28, -117.8], [23.54, -81], [23.83, -49.4], [24.18, -23.7],
    [24.53, -8.3], [25.0, -0.5], [25.02, -59], [25.09, -105.6], [25.21, -132.5], [25.35, -144.7],
    [25.5, -146.7], [25.64, -137.4], [25.82, -105.6], [26.11, -66.5], [26.4, -42], [26.75, -22.5],
    [27.22, -9.5], [27.81, -2.9], [28.57, -0.7], [30, 0]])

labels = ["FOPID", "Reference", "Proposed PINN (GLFGD)"]
panel_letters = ["(i)", "(j)", "(k)", "(l)"]
ylabels = ["Euler Angle (°)", "Angular velocity (°/s)", "Angular velocity (°/s)", "Angular velocity (°/s)"]

plt.rcParams["font.size"] = 22
plt.rcParams["xtick.major.size"] = 5
plt.rcParams["ytick.major.size"] = 5
plt.rcParams["xtick.major.pad"] = 4
plt.rcParams["ytick.major.pad"] = 4
plt.rcParams["axes.linewidth"] = 1.3
plt.rcParams["grid.linewidth"] = 1.1
plt.rcParams["lines.solid_joinstyle"] = "round"
plt.rcParams["lines.dash_joinstyle"] = "round"

W, H = 4102, 2316
fig = plt.figure(figsize=(W / 100, H / 100), dpi=100)

# axes boxes in pixels: left, right, top, bottom
boxes = [(161, 1882, 29, 893), (2344, 4080, 25.5, 896),
         (147, 1882, 1216, 2087), (2366, 4080, 1227, 2088)]
letter_pos = [(953, 1067), (3151, 1067), (952, 2263), (3151, 2263)]
legend_loc = ["lower left", "upper right", "upper right", "upper right"]
series = [(fopid_i, ref_i, pinn_i), (fopid_j, ref_j, pinn_j),
          (fopid_k, ref_k, pinn_k), (fopid_l, ref_l, pinn_l)]

for n in range(4):
    l, r, t, b = boxes[n]
    ax = fig.add_axes([l / W, 1 - b / H, (r - l) / W, (b - t) / H])
    fop, ref, pin = series[n]
    ax.plot(fop[:, 0], fop[:, 1], color="#1f77b4", lw=1.8, label=labels[0])
    ax.plot(ref[:, 0], ref[:, 1], color="#ff7f0e", lw=1.8, ls="--", label=labels[1])
    ax.plot(pin[:, 0], pin[:, 1], color="#2ca02c", lw=1.8, ls="-.", label=labels[2])
    ax.set_xticks([0, 5, 10, 15, 20, 25, 30])
    ax.set_xlabel("Time (s)", labelpad=6)
    ax.set_ylabel(ylabels[n])
    ax.grid(True)
    ax.legend(loc=legend_loc[n], fontsize=21)
    x, y = letter_pos[n]
    fig.text(x / W, 1 - y / H, panel_letters[n], ha="center", va="center",
             family="Liberation Serif", weight="bold", fontsize=54)

fig.savefig("out.png", dpi=100, facecolor="white")
